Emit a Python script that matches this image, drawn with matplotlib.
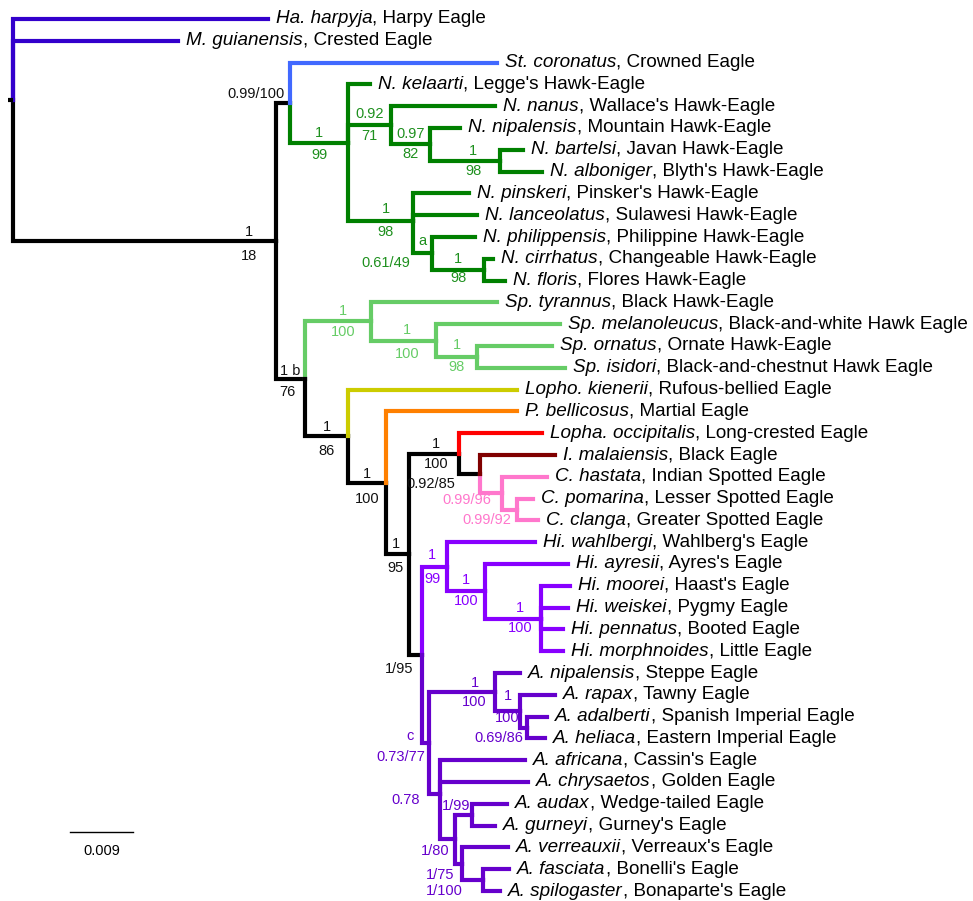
import matplotlib.pyplot as plt

plt.rcParams['font.family'] = ['Liberation Sans', 'DejaVu Sans']

# tips, top to bottom
leaf_sci = ['Ha. harpyja', 'M. guianensis', 'St. coronatus', 'N. kelaarti', 'N. nanus',
            'N. nipalensis', 'N. bartelsi', 'N. alboniger', 'N. pinskeri', 'N. lanceolatus',
            'N. philippensis', 'N. cirrhatus', 'N. floris', 'Sp. tyrannus', 'Sp. melanoleucus',
            'Sp. ornatus', 'Sp. isidori', 'Lopho. kienerii', 'P. bellicosus', 'Lopha. occipitalis',
            'I. malaiensis', 'C. hastata', 'C. pomarina', 'C. clanga', 'Hi. wahlbergi',
            'Hi. ayresii', 'Hi. moorei', 'Hi. weiskei', 'Hi. pennatus', 'Hi. morphnoides',
            'A. nipalensis', 'A. rapax', 'A. adalberti', 'A. heliaca', 'A. africana',
            'A. chrysaetos', 'A. audax', 'A. gurneyi', 'A. verreauxii', 'A. fasciata',
            'A. spilogaster']
leaf_common = ['Harpy Eagle', 'Crested Eagle', 'Crowned Eagle', "Legge's Hawk-Eagle",
               "Wallace's Hawk-Eagle", 'Mountain Hawk-Eagle', 'Javan Hawk-Eagle',
               "Blyth's Hawk-Eagle", "Pinsker's Hawk-Eagle", 'Sulawesi Hawk-Eagle',
               'Philippine Hawk-Eagle', 'Changeable Hawk-Eagle', 'Flores Hawk-Eagle',
               'Black Hawk-Eagle', 'Black-and-white Hawk Eagle', 'Ornate Hawk-Eagle',
               'Black-and-chestnut Hawk Eagle', 'Rufous-bellied Eagle', 'Martial Eagle',
               'Long-crested Eagle', 'Black Eagle', 'Indian Spotted Eagle',
               'Lesser Spotted Eagle', 'Greater Spotted Eagle', "Wahlberg's Eagle",
               "Ayres's Eagle", "Haast's Eagle", 'Pygmy Eagle', 'Booted Eagle', 'Little Eagle',
               'Steppe Eagle', 'Tawny Eagle', 'Spanish Imperial Eagle', 'Eastern Imperial Eagle',
               "Cassin's Eagle", 'Golden Eagle', 'Wedge-tailed Eagle', "Gurney's Eagle",
               "Verreaux's Eagle", "Bonelli's Eagle", "Bonaparte's Eagle"]
leaf_parent = ['root', 'root', 'B', 'N1', 'N2', 'N3', 'N4', 'N4', 'N5', 'N5',
               'N6', 'N7', 'N7', 'S1', 'S2', 'S3', 'S3', 'D', 'E', 'G',
               'I', 'J', 'K', 'K', 'Hi1', 'Hi2', 'Hi3', 'Hi3', 'Hi3', 'Hi3',
               'Aq1', 'Aq3', 'Aq4', 'Aq4', 'Aq2', 'Aq2', 'Aq6', 'Aq6', 'Aq7', 'Aq8',
               'Aq8']
# distance from root (substitutions/site)
leaf_depth = [0.0364, 0.0236, 0.0691, 0.0510, 0.0689, 0.0639, 0.0729, 0.0756, 0.0651, 0.0663,
              0.0660, 0.0686, 0.0703, 0.0691, 0.0781, 0.0770, 0.0789, 0.0720, 0.0720, 0.0756,
              0.0774, 0.0763, 0.0743, 0.0750, 0.0746, 0.0793, 0.0796, 0.0793, 0.0786, 0.0786,
              0.0724, 0.0774, 0.0763, 0.0760, 0.0731, 0.0736, 0.0706, 0.0689, 0.0707, 0.0709,
              0.0696]
leaf_clade = ['outgroup', 'outgroup', 'stephanoaetus'] + ['nisaetus'] * 10 + ['spizaetus'] * 4 + \
             ['lophotriorchis', 'polemaetus', 'lophaetus', 'ictinaetus'] + ['clanga'] * 3 + \
             ['hieraaetus'] * 6 + ['aquila'] * 11

# internal nodes
node_name = ['root', 'A', 'B', 'N1', 'N2', 'N3', 'N4', 'N5', 'N6', 'N7',
             'C', 'S1', 'S2', 'S3', 'D', 'E', 'F', 'G', 'I', 'J', 'K',
             'H', 'Hi1', 'Hi2', 'Hi3', 'Aq', 'Aq1', 'Aq3', 'Aq4', 'Aq2',
             'Aq5', 'Aq6', 'Aq7', 'Aq8']
node_parent = [None, 'root', 'A', 'B', 'N1', 'N2', 'N3', 'N1', 'N5', 'N6',
               'A', 'C', 'S1', 'S2', 'C', 'D', 'E', 'F', 'G', 'I', 'J',
               'F', 'H', 'Hi1', 'Hi2', 'H', 'Aq', 'Aq1', 'Aq3', 'Aq',
               'Aq2', 'Aq5', 'Aq5', 'Aq7']
node_depth = [0.0, 0.0376, 0.0396, 0.0479, 0.0540, 0.0596, 0.0696, 0.0571, 0.0599, 0.0673,
              0.0417, 0.0511, 0.0604, 0.0663, 0.0479, 0.0533, 0.0566, 0.0637, 0.0667, 0.0699,
              0.0720, 0.0584, 0.0620, 0.0674, 0.0754, 0.0594, 0.0689, 0.0724, 0.0734, 0.0610,
              0.0631, 0.0656, 0.0641, 0.0671]
node_clade = ['backbone', 'backbone', 'backbone'] + ['nisaetus'] * 7 + ['backbone'] + \
             ['spizaetus'] * 3 + ['backbone'] * 5 + ['clanga'] * 2 + ['backbone'] + \
             ['hieraaetus'] * 3 + ['aquila'] * 9

# posterior / bootstrap labels
support_node = ['A', 'A', 'B', 'N1', 'N1', 'N2', 'N2', 'N3', 'N3', 'N4', 'N4',
                'N5', 'N5', 'N6', 'N6', 'N7', 'N7', 'C', 'C', 'S1', 'S1', 'S2', 'S2',
                'S3', 'S3', 'D', 'D', 'E', 'E', 'F', 'F', 'G', 'G', 'I', 'J', 'K', 'H',
                'Hi1', 'Hi1', 'Hi2', 'Hi2', 'Hi3', 'Hi3', 'Aq', 'Aq', 'Aq1', 'Aq1',
                'Aq3', 'Aq3', 'Aq4', 'Aq2', 'Aq6', 'Aq5', 'Aq7', 'Aq8']
support_text = ['1', '18', '0.99/100', '1', '99', '0.92', '71', '0.97', '82', '1', '98',
                '1', '98', 'a', '0.61/49', '1', '98', '1 b', '76', '1', '100', '1', '100',
                '1', '98', '1', '86', '1', '100', '1', '95', '1', '100', '0.92/85', '0.99/96',
                '0.99/92', '1/95', '1', '99', '1', '100', '1', '100', 'c', '0.73/77', '1', '100',
                '1', '100', '0.69/86', '0.78', '1/99', '1/80', '1/75', '1/100']
# label placement: mode ('mid' = centred on branch, 'left' = right-aligned at node), dx, dy in px
support_place = [('mid', 104, -9), ('mid', 104, 15), ('left', -6, -9),
                 ('mid', 0, -10), ('mid', 0, 12), ('mid', 0, -11), ('mid', 0, 11),
                 ('mid', 0, -10), ('mid', 0, 10), ('mid', 8, -10), ('mid', 8, 10),
                 ('mid', 5, -12), ('mid', 5, 11), ('mid', 0, -12), ('left', -22, 10),
                 ('mid', 0, -11), ('mid', 0, 8), ('mid', 0, -8), ('mid', -3, 13),
                 ('mid', 5, -10), ('mid', 5, 11), ('mid', 4, -11), ('mid', 4, 13),
                 ('mid', 0, -12), ('mid', 0, 10), ('mid', 0, -9), ('mid', 0, 15),
                 ('mid', 0, -9), ('mid', 0, 16), ('mid', -2, -10), ('mid', -2, 14),
                 ('mid', 2, -10), ('mid', 2, 10), ('left', -25, 10), ('left', -11, 7),
                 ('left', -6, 10), ('left', -8, 14),
                 ('mid', -2, -12), ('mid', -2, 12), ('mid', 0, -11), ('mid', 0, 10),
                 ('mid', 7, -11), ('mid', 7, 10), ('left', -15, -7), ('left', -4, 14),
                 ('mid', 13, -9), ('mid', 12, 10), ('mid', 0, -15), ('mid', 0, 7),
                 ('left', -4, 11), ('left', -20, 6), ('left', -2, -9), ('left', -5, 12),
                 ('left', -7, 11), ('left', -20, 11)]

clade_colors = {'backbone': 'black', 'outgroup': '#3300CC', 'stephanoaetus': '#4169FF',
                'nisaetus': '#008000', 'spizaetus': '#66CC66', 'lophotriorchis': '#CCCC00',
                'polemaetus': '#FF8000', 'lophaetus': '#FF0000', 'ictinaetus': '#800000',
                'clanga': '#FF77CC', 'hieraaetus': '#8800FF', 'aquila': '#6600CC'}
label_colors = dict(clade_colors, nisaetus='#1E901E', backbone='#111111')

scale_len = 0.009

# pixel -> data conversion
PX_X = 0.009 / 63
PX_Y = 1 / 21.8

# ---- layout ----
depth = dict(zip(node_name, node_depth))
depth.update(zip(leaf_sci, leaf_depth))
parent = dict(zip(node_name, node_parent))
parent.update(zip(leaf_sci, leaf_parent))
clade = dict(zip(node_name, node_clade))
clade.update(zip(leaf_sci, leaf_clade))

children = {}
for n in node_name[1:] + leaf_sci:
    children.setdefault(parent[n], []).append(n)

ypos = {name: i for i, name in enumerate(leaf_sci)}


def get_y(n):
    if n not in ypos:
        ys = [get_y(c) for c in children[n]]
        ypos[n] = sum(ys) / len(ys)
    return ypos[n]


get_y('root')

fig = plt.figure(figsize=(9.73, 9.01), dpi=100)
ax = fig.add_axes([0, 0, 1, 1])
ax.set_xlim(-13 * PX_X, 960 * PX_X)
ax.set_ylim(882 * PX_Y, -19 * PX_Y)
ax.axis('off')

LW = 3.0
for n in node_name[1:] + leaf_sci:
    p = parent[n]
    ax.plot([depth[p], depth[p], depth[n]], [ypos[p], ypos[n], ypos[n]],
            color=clade_colors[clade[n]], lw=LW, solid_capstyle='projecting',
            solid_joinstyle='miter')
# root stub
ax.plot([-5 * PX_X, 0], [ypos['root'], ypos['root']], color='black', lw=LW,
        solid_capstyle='butt')

# tip labels
for sci, common in zip(leaf_sci, leaf_common):
    t = ax.text(depth[sci] + 8 * PX_X, ypos[sci], sci, style='italic', fontsize=13.6,
                va='center', ha='left')
    ax.annotate(', ' + common, xy=(1, 0), xycoords=t, va='bottom', ha='left', fontsize=13.6)

# support values
for n, txt, (mode, dx, dy) in zip(support_node, support_text, support_place):
    if mode == 'mid':
        x = (depth[parent[n]] + depth[n]) / 2 + dx * PX_X
        ha = 'center'
    else:
        x = depth[n] + dx * PX_X
        ha = 'right'
    ax.text(x, ypos[n] + dy * PX_Y, txt, fontsize=10.5, ha=ha, va='center',
            color=label_colors[clade[n]])

# scale bar
sx = 57 * PX_X
sy = 813 * PX_Y
ax.plot([sx, sx + scale_len], [sy, sy], color='black', lw=1)
ax.text(sx + scale_len / 2, sy + 19 * PX_Y, str(scale_len), fontsize=10.5, ha='center',
        va='center')

fig.savefig('out.png', dpi=100)
